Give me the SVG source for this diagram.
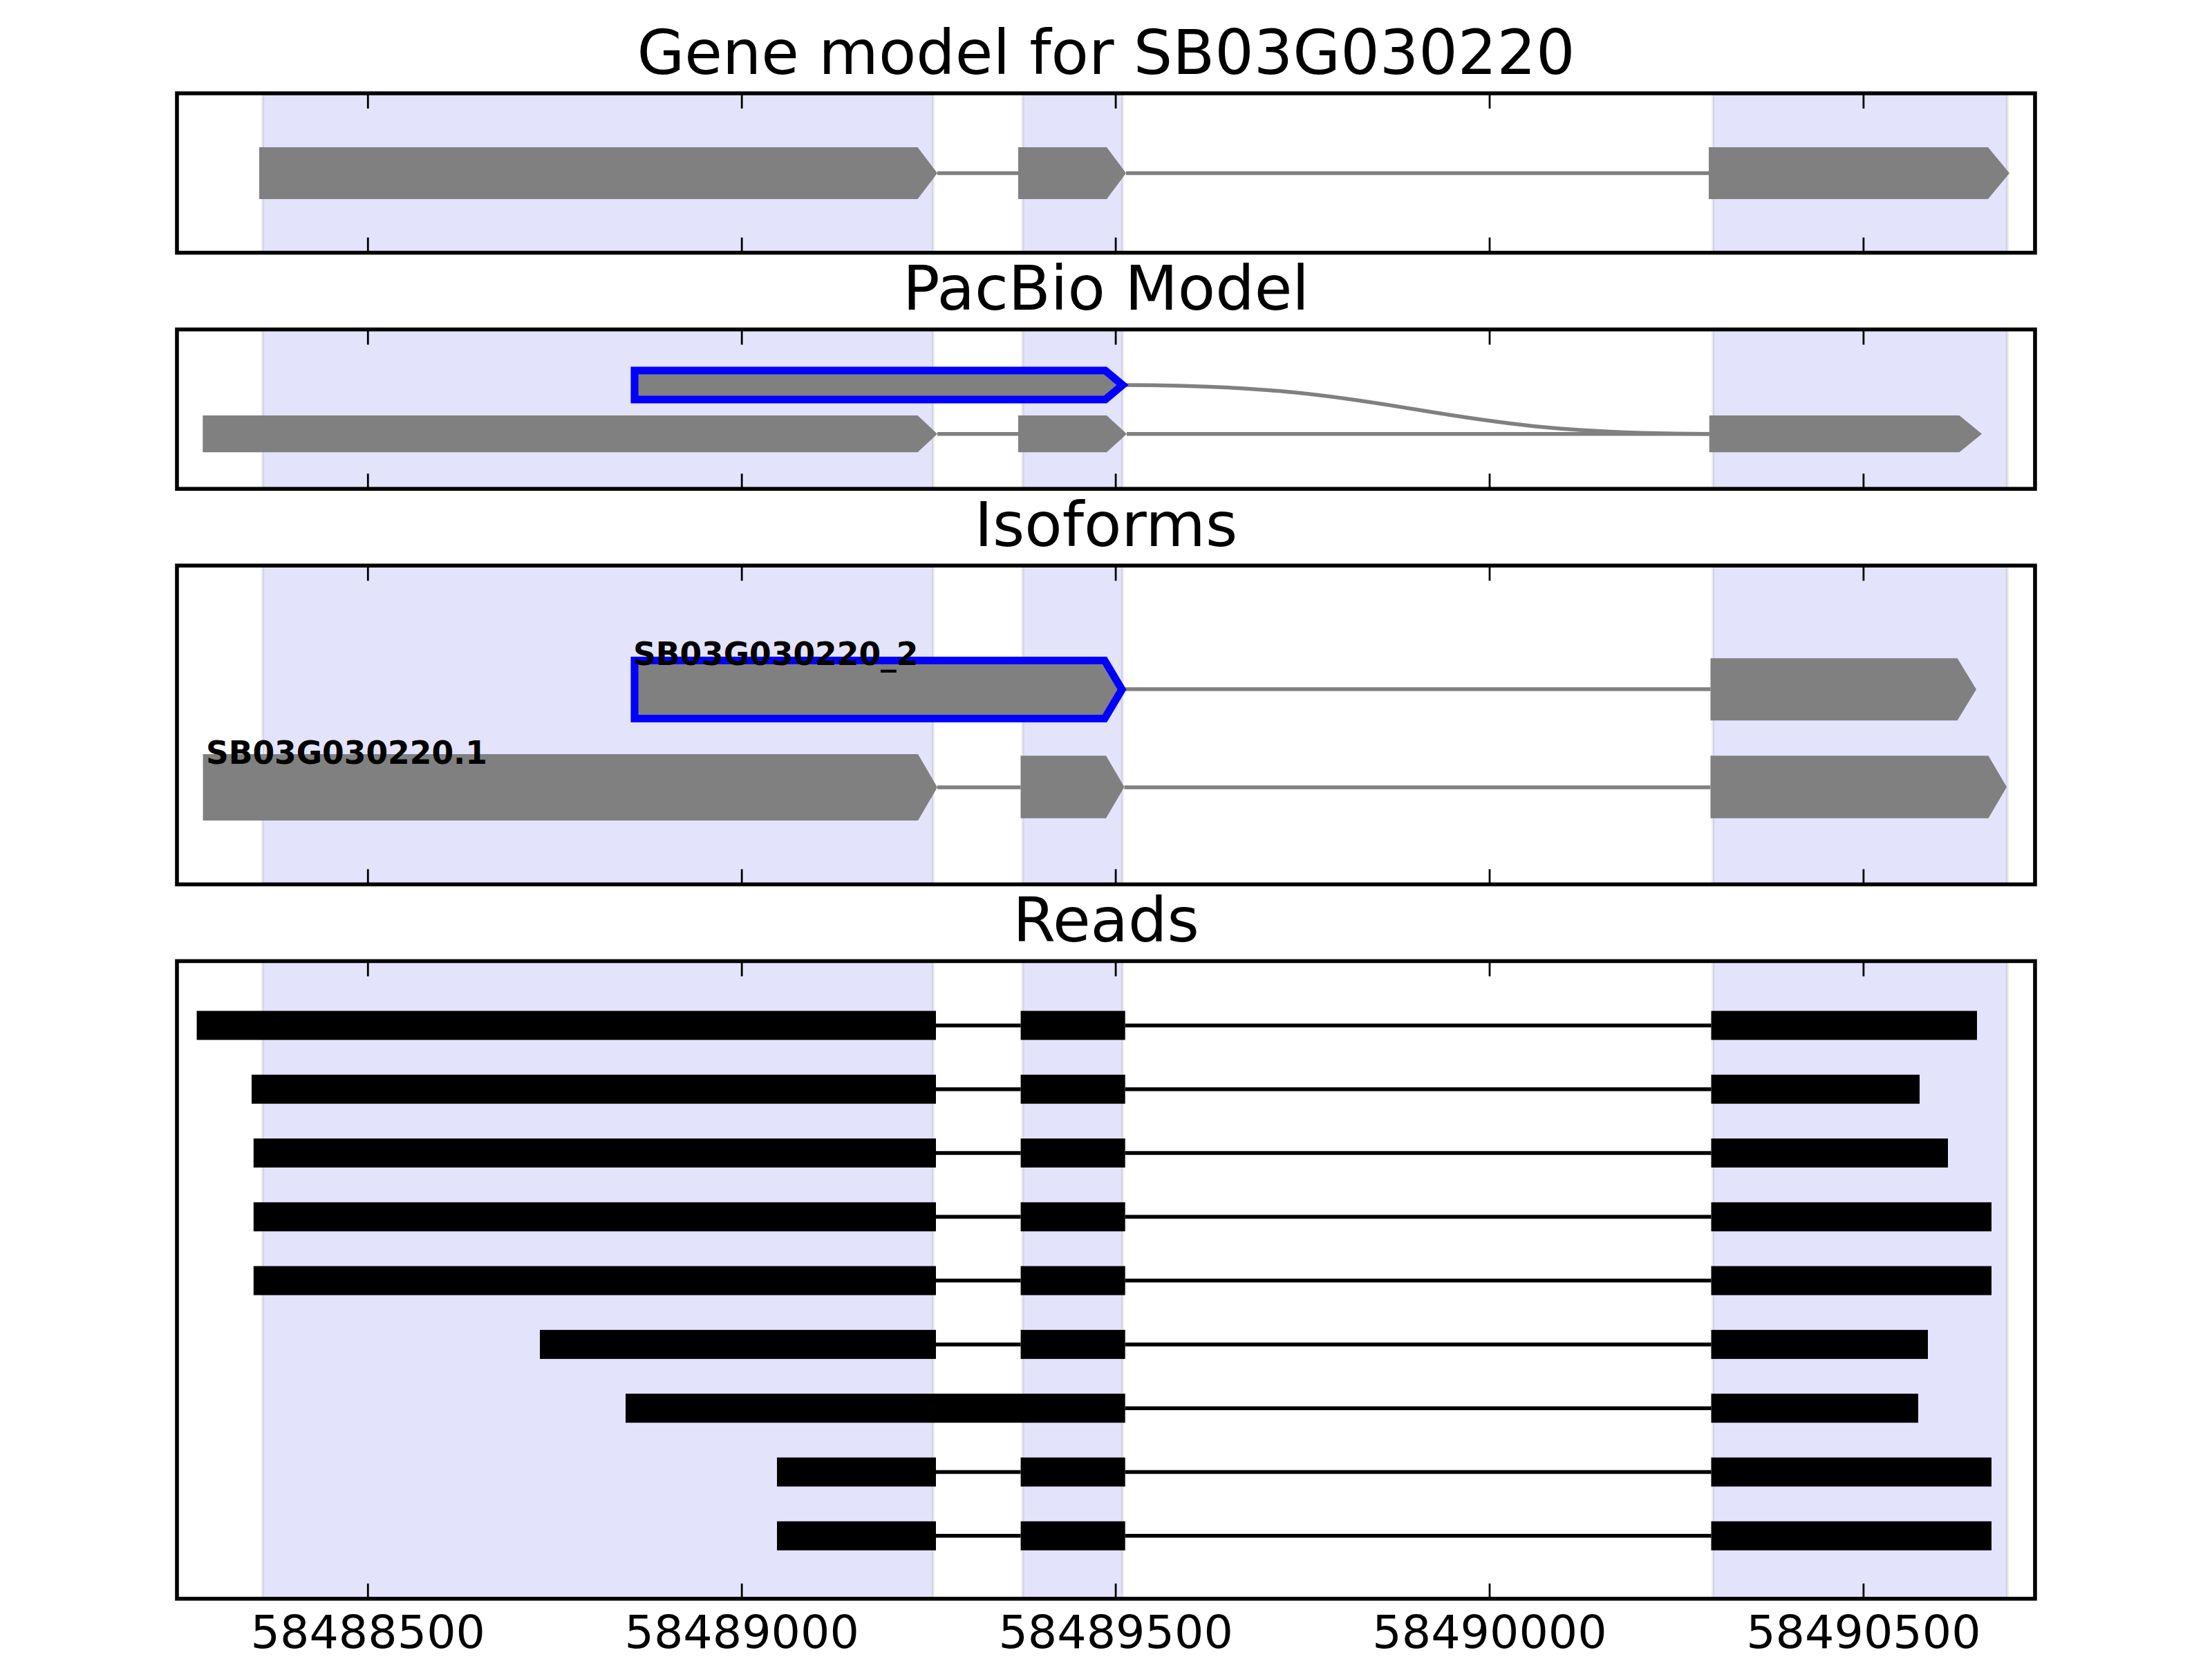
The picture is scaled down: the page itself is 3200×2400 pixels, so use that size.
<svg xmlns="http://www.w3.org/2000/svg" width="3200" height="2400" viewBox="0 0 3200 2400">
<style>
.title{font-family:"DejaVu Sans","Liberation Sans",sans-serif;font-size:88.9px;text-anchor:middle;fill:#000}
.tick{font-family:"DejaVu Sans","Liberation Sans",sans-serif;font-size:66.7px;text-anchor:middle;fill:#000}
.lab{font-family:"DejaVu Sans","Liberation Sans",sans-serif;font-size:45.5px;font-weight:bold;fill:#000}
.shade{fill:#e3e3fc;stroke:#000;stroke-opacity:0.07;stroke-width:4.4}
.frame{fill:none;stroke:#000;stroke-width:5.6}
.tk{stroke:#000;stroke-width:2.8}
.exon{fill:#808080;stroke:none}
.iso{fill:#808080;stroke:#0000ff;stroke-width:11.1;stroke-linejoin:miter}
.intron{fill:none;stroke:#808080;stroke-width:5.5}
.read{fill:#000}
.rline{stroke:#000;stroke-width:5.5}
</style>
<defs>
<g id="ticks1">
<line class="tk" x1="532.3" y1="0" x2="532.3" y2="22"/>
<line class="tk" x1="1073.2" y1="0" x2="1073.2" y2="22"/>
<line class="tk" x1="1614.1" y1="0" x2="1614.1" y2="22"/>
<line class="tk" x1="2155" y1="0" x2="2155" y2="22"/>
<line class="tk" x1="2695.9" y1="0" x2="2695.9" y2="22"/>
</g>
</defs>
<rect x="0" y="0" width="3200" height="2400" fill="#fff"/>

<!-- Panel 1: Gene model -->
<g id="panel-gene-model">
<text class="title" x="1600" y="107">Gene model for SB03G030220</text>
<rect x="256" y="135" width="2688" height="230.6" fill="#fff"/>
<rect class="shade" x="380" y="135" width="970" height="230.6"/>
<rect class="shade" x="1479.5" y="135" width="144.5" height="230.6"/>
<rect class="shade" x="2478" y="135" width="426" height="230.6"/>
<g id="gene-model">
<line class="intron" x1="1356" y1="250.5" x2="1473" y2="250.5"/>
<line class="intron" x1="1629" y1="250.5" x2="2472" y2="250.5"/>
<polygon class="exon" points="375,213 1327.5,213 1356,250.5 1327.5,288 375,288"/>
<polygon class="exon" points="1473,213 1601,213 1629,250.5 1601,288 1473,288"/>
<polygon class="exon" points="2472,213 2876,213 2907,250.5 2876,288 2472,288"/>
</g>
<use href="#ticks1" transform="translate(0,135)"/>
<use href="#ticks1" transform="translate(0,365.6) scale(1,-1)"/>
<rect class="frame" x="256" y="135" width="2688" height="230.6"/>
</g>

<!-- Panel 2: PacBio Model -->
<g id="panel-pacbio">
<text class="title" x="1600" y="448">PacBio Model</text>
<rect x="256" y="476.6" width="2688" height="230.6" fill="#fff"/>
<rect class="shade" x="380" y="476.6" width="970" height="230.6"/>
<rect class="shade" x="1479.5" y="476.6" width="144.5" height="230.6"/>
<rect class="shade" x="2478" y="476.6" width="426" height="230.6"/>
<g id="pacbio-model-2">
<path class="intron" d="M1624,557 C2048,557 2048,627.7 2472.7,627.7"/>
<polygon class="iso" points="918,536 1599,536 1624,557 1599,578 918,578"/>
</g>
<g id="pacbio-model-1">
<line class="intron" x1="1356" y1="627.7" x2="1473" y2="627.7"/>
<line class="intron" x1="1630" y1="627.7" x2="2472.7" y2="627.7"/>
<polygon class="exon" points="293.3,601 1327.5,601 1356,627.7 1327.5,654.3 293.3,654.3"/>
<polygon class="exon" points="1473,601 1601,601 1630,627.7 1601,654.3 1473,654.3"/>
<polygon class="exon" points="2472.7,601 2834.5,601 2867,627.7 2834.5,654.3 2472.7,654.3"/>
</g>
<use href="#ticks1" transform="translate(0,476.6)"/>
<use href="#ticks1" transform="translate(0,707.2) scale(1,-1)"/>
<rect class="frame" x="256" y="476.6" width="2688" height="230.6"/>
</g>

<!-- Panel 3: Isoforms -->
<g id="panel-isoforms">
<text class="title" x="1600" y="790">Isoforms</text>
<rect x="256" y="818.2" width="2688" height="461.2" fill="#fff"/>
<rect class="shade" x="380" y="818.2" width="970" height="461.2"/>
<rect class="shade" x="1479.5" y="818.2" width="144.5" height="461.2"/>
<rect class="shade" x="2478" y="818.2" width="426" height="461.2"/>
<g id="isoform-2">
<line class="intron" x1="1623" y1="997" x2="2474.5" y2="997"/>
<polygon class="iso" points="918,955.5 1598,955.5 1623,997.5 1598,1039.5 918,1039.5"/>
<polygon class="exon" points="2474.5,952.3 2831.6,952.3 2859,997.3 2831.6,1042.3 2474.5,1042.3"/>
<text class="lab" x="916" y="962">SB03G030220_2</text>
</g>
<g id="isoform-1">
<line class="intron" x1="1356" y1="1139" x2="1476.5" y2="1139"/>
<line class="intron" x1="1626.5" y1="1139" x2="2474.5" y2="1139"/>
<polygon class="exon" points="293.6,1091 1328,1091 1356,1139 1328,1187 293.6,1187"/>
<polygon class="exon" points="1476.5,1093.3 1600,1093.3 1626.5,1138.5 1600,1183.7 1476.5,1183.7"/>
<polygon class="exon" points="2474.5,1093.3 2876.5,1093.3 2903,1138.5 2876.5,1183.7 2474.5,1183.7"/>
<text class="lab" x="298" y="1105">SB03G030220.1</text>
</g>
<use href="#ticks1" transform="translate(0,818.2)"/>
<use href="#ticks1" transform="translate(0,1279.4) scale(1,-1)"/>
<rect class="frame" x="256" y="818.2" width="2688" height="461.2"/>
</g>

<!-- Panel 4: Reads -->
<g id="panel-reads">
<text class="title" x="1600" y="1362">Reads</text>
<rect x="256" y="1390.4" width="2688" height="922.4" fill="#fff"/>
<rect class="shade" x="380" y="1390.4" width="970" height="922.4"/>
<rect class="shade" x="1479.5" y="1390.4" width="144.5" height="922.4"/>
<rect class="shade" x="2478" y="1390.4" width="426" height="922.4"/>
<g id="read-1">
<line class="rline" x1="1354" y1="1483.4" x2="1476.6" y2="1483.4"/>
<line class="rline" x1="1627.7" y1="1483.4" x2="2475.5" y2="1483.4"/>
<rect class="read" x="284.6" y="1462.4" width="1069.4" height="42"/>
<rect class="read" x="1476.6" y="1462.4" width="151.1" height="42"/>
<rect class="read" x="2475.5" y="1462.4" width="384.5" height="42"/>
</g>
<g id="read-2">
<line class="rline" x1="1354" y1="1575.7" x2="1476.6" y2="1575.7"/>
<line class="rline" x1="1627.7" y1="1575.7" x2="2475.5" y2="1575.7"/>
<rect class="read" x="364" y="1554.7" width="990" height="42"/>
<rect class="read" x="1476.6" y="1554.7" width="151.1" height="42"/>
<rect class="read" x="2475.5" y="1554.7" width="301.5" height="42"/>
</g>
<g id="read-3">
<line class="rline" x1="1354" y1="1668" x2="1476.6" y2="1668"/>
<line class="rline" x1="1627.7" y1="1668" x2="2475.5" y2="1668"/>
<rect class="read" x="366.8" y="1647" width="987.2" height="42"/>
<rect class="read" x="1476.6" y="1647" width="151.1" height="42"/>
<rect class="read" x="2475.5" y="1647" width="342.5" height="42"/>
</g>
<g id="read-4">
<line class="rline" x1="1354" y1="1760.3" x2="1476.6" y2="1760.3"/>
<line class="rline" x1="1627.7" y1="1760.3" x2="2475.5" y2="1760.3"/>
<rect class="read" x="366.8" y="1739.3" width="987.2" height="42"/>
<rect class="read" x="1476.6" y="1739.3" width="151.1" height="42"/>
<rect class="read" x="2475.5" y="1739.3" width="405.5" height="42"/>
</g>
<g id="read-5">
<line class="rline" x1="1354" y1="1852.6" x2="1476.6" y2="1852.6"/>
<line class="rline" x1="1627.7" y1="1852.6" x2="2475.5" y2="1852.6"/>
<rect class="read" x="366.8" y="1831.6" width="987.2" height="42"/>
<rect class="read" x="1476.6" y="1831.6" width="151.1" height="42"/>
<rect class="read" x="2475.5" y="1831.6" width="405.5" height="42"/>
</g>
<g id="read-6">
<line class="rline" x1="1354" y1="1944.9" x2="1476.6" y2="1944.9"/>
<line class="rline" x1="1627.7" y1="1944.9" x2="2475.5" y2="1944.9"/>
<rect class="read" x="781" y="1923.9" width="573" height="42"/>
<rect class="read" x="1476.6" y="1923.9" width="151.1" height="42"/>
<rect class="read" x="2475.5" y="1923.9" width="313.5" height="42"/>
</g>
<g id="read-7">
<line class="rline" x1="1627.7" y1="2037.2" x2="2475.5" y2="2037.2"/>
<rect class="read" x="905" y="2016.2" width="722.7" height="42"/>
<rect class="read" x="2475.5" y="2016.2" width="299.5" height="42"/>
</g>
<g id="read-8">
<line class="rline" x1="1354" y1="2129.5" x2="1476.6" y2="2129.5"/>
<line class="rline" x1="1627.7" y1="2129.5" x2="2475.5" y2="2129.5"/>
<rect class="read" x="1124" y="2108.5" width="230" height="42"/>
<rect class="read" x="1476.6" y="2108.5" width="151.1" height="42"/>
<rect class="read" x="2475.5" y="2108.5" width="405.5" height="42"/>
</g>
<g id="read-9">
<line class="rline" x1="1354" y1="2221.8" x2="1476.6" y2="2221.8"/>
<line class="rline" x1="1627.7" y1="2221.8" x2="2475.5" y2="2221.8"/>
<rect class="read" x="1124" y="2200.8" width="230" height="42"/>
<rect class="read" x="1476.6" y="2200.8" width="151.1" height="42"/>
<rect class="read" x="2475.5" y="2200.8" width="405.5" height="42"/>
</g>
<use href="#ticks1" transform="translate(0,1390.4)"/>
<use href="#ticks1" transform="translate(0,2312.8) scale(1,-1)"/>
<rect class="frame" x="256" y="1390.4" width="2688" height="922.4"/>
<g id="x-axis-labels">
<text class="tick" x="532.3" y="2384">58488500</text>
<text class="tick" x="1073.2" y="2384">58489000</text>
<text class="tick" x="1614.1" y="2384">58489500</text>
<text class="tick" x="2155" y="2384">58490000</text>
<text class="tick" x="2695.9" y="2384">58490500</text>
</g>
</g>
</svg>
